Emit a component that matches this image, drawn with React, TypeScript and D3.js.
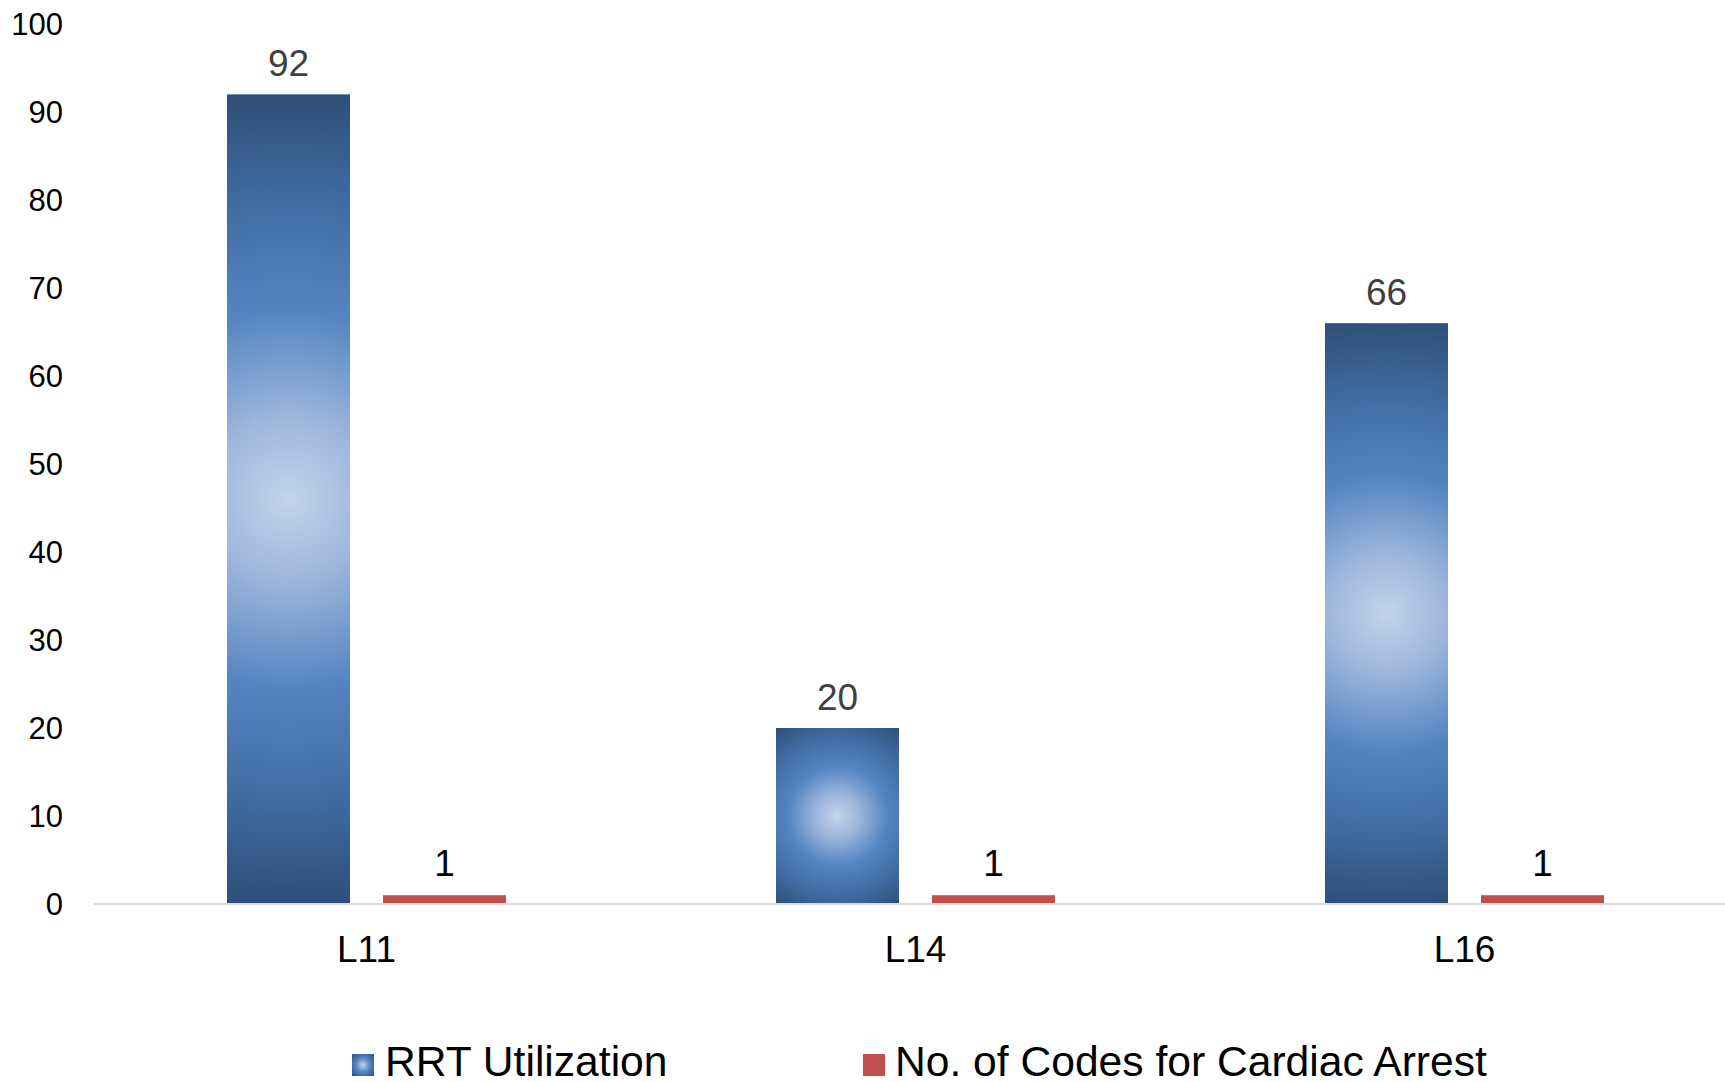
import React from "react";
import * as d3 from "d3";

const categories = ["L11", "L14", "L16"];
const seriesNames = ["RRT Utilization", "No. of Codes for Cardiac Arrest"];
const rrtValues = [92, 20, 66];
const codeValues = [1, 1, 1];
const yTicks = [0, 10, 20, 30, 40, 50, 60, 70, 80, 90, 100];

const W = 1725;
const H = 1082;
const FONT = "'Liberation Sans', Arial, sans-serif";

export default function App() {
  const x = d3.scaleBand<string>().domain(categories).range([92, 1739]).padding(0);
  const inner = d3
    .scaleBand<string>()
    .domain(seriesNames)
    .range([135, 414])
    .paddingInner(0.2115)
    .paddingOuter(0);
  const y = d3.scaleLinear().domain([0, 100]).range([904, 24]);

  const rows = categories.map((c, i) => ({ c, rrt: rrtValues[i], code: codeValues[i] }));

  return (
    <svg
      width={W}
      height={H}
      style={{ position: "absolute", left: 0, top: 0, background: "#fff" }}
      fontFamily={FONT}
    >
      <defs>
        {rows.map((r, i) => {
          const bx = x(r.c)! + inner(seriesNames[0])!;
          const bw = inner.bandwidth();
          const top = y(r.rrt);
          const bh = y(0) - top;
          const cx = bx + bw / 2;
          const cy = top + bh / 2;
          const rad = Math.sqrt((bw / 2) ** 2 + (bh / 2) ** 2);
          return (
            <radialGradient
              key={i}
              id={`g${i}`}
              gradientUnits="userSpaceOnUse"
              cx={cx}
              cy={cy}
              r={rad}
            >
              <stop offset="0" stopColor="#c3d4ea" />
              <stop offset="0.2" stopColor="#9db6dc" />
              <stop offset="0.46" stopColor="#5585c2" />
              <stop offset="0.75" stopColor="#3f6aa0" />
              <stop offset="1" stopColor="#2e4e77" />
            </radialGradient>
          );
        })}
        <radialGradient id="legG" cx="0.5" cy="0.5" r="0.71">
          <stop offset="0" stopColor="#c3d4ea" />
          <stop offset="0.46" stopColor="#5585c2" />
          <stop offset="1" stopColor="#2e4e77" />
        </radialGradient>
      </defs>

      {/* y tick labels */}
      {yTicks.map((t) => (
        <text
          key={t}
          x={63}
          y={y(t)}
          dy="0.36em"
          textAnchor="end"
          fontSize={31}
          fill="#000"
        >
          {t}
        </text>
      ))}

      {/* bars */}
      {rows.map((r, i) => {
        const bx = x(r.c)!;
        const b1 = bx + inner(seriesNames[0])!;
        const b2 = bx + inner(seriesNames[1])!;
        const bw = inner.bandwidth();
        return (
          <g key={r.c}>
            <rect x={b1} y={y(r.rrt)} width={bw} height={y(0) - y(r.rrt)} fill={`url(#g${i})`} />
            <rect x={b2} y={y(r.code)} width={bw} height={y(0) - y(r.code)} fill="#c0504d" />
            <text
              x={b1 + bw / 2}
              y={y(r.rrt) - 18}
              textAnchor="middle"
              fontSize={37}
              fill="#404040"
            >
              {r.rrt}
            </text>
            <text
              x={b2 + bw / 2}
              y={y(r.code) - 19}
              textAnchor="middle"
              fontSize={37}
              fill="#000"
            >
              {r.code}
            </text>
            <text
              x={bx + x.bandwidth() / 2}
              y={962}
              textAnchor="middle"
              fontSize={37}
              fill="#000"
            >
              {r.c}
            </text>
          </g>
        );
      })}

      {/* axis line */}
      <line x1={93} x2={W} y1={y(0)} y2={y(0)} stroke="#d9d9d9" strokeWidth={2} />

      {/* legend */}
      <g>
        <rect x={352} y={1054} width={22} height={22} fill="url(#legG)" />
        <text x={385} y={1076} fontSize={42.6} fill="#000">
          {seriesNames[0]}
        </text>
        <rect x={863} y={1054} width={22} height={22} fill="#c0504d" />
        <text x={895} y={1076} fontSize={42.6} fill="#000">
          {seriesNames[1]}
        </text>
      </g>
    </svg>
  );
}
